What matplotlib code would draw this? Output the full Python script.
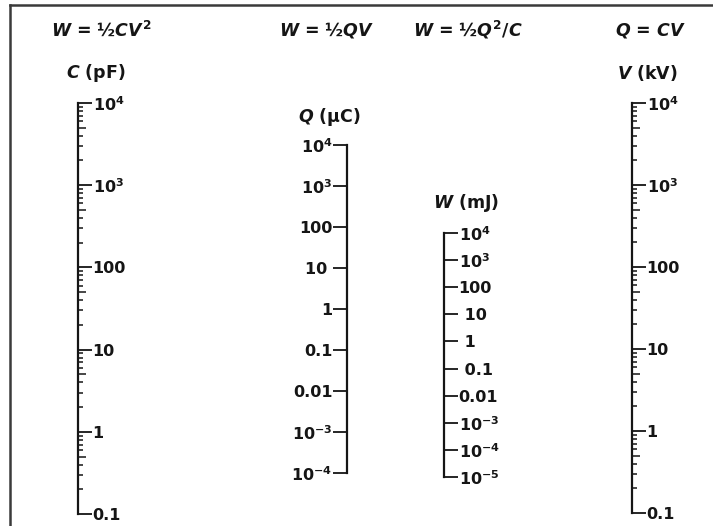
import matplotlib
matplotlib.use("Agg")
import matplotlib.pyplot as plt
from matplotlib.ticker import FixedLocator, NullFormatter, LogLocator
from matplotlib.lines import Line2D

plt.rcParams['font.family'] = ['DejaVu Sans']
plt.rcParams['font.weight'] = 'bold'
plt.rcParams['mathtext.fontset'] = 'custom'
plt.rcParams['mathtext.rm'] = 'DejaVu Sans:bold'
plt.rcParams['mathtext.it'] = 'DejaVu Sans:italic:bold'
plt.rcParams['mathtext.bf'] = 'DejaVu Sans:bold'

# ---- data ----
formulas = ["$W$ = ½$CV^{2}$", "$W$ = ½$QV$",
            "$W$ = ½$Q^{2}$/$C$", "$Q$ = $CV$"]
axis_names = [r"$C$ (pF)", r"$Q$ (μC)", r"$W$ (mJ)", r"$V$ (kV)"]

C_ticks = [0.1, 1, 10, 100, 1e3, 1e4]
C_labels = ["0.1", "1", "10", "100", r"$10^{3}$", r"$10^{4}$"]
Q_ticks = [1e-4, 1e-3, 0.01, 0.1, 1, 10, 100, 1e3, 1e4]
Q_labels = [r"$10^{-4}$", r"$10^{-3}$", "0.01", "0.1", "1", "10 ", "100", r"$10^{3}$", r"$10^{4}$"]
W_ticks = [1e-5, 1e-4, 1e-3, 0.01, 0.1, 1, 10, 100, 1e3, 1e4]
W_labels = [r"$10^{-5}$", r"$10^{-4}$", r"$10^{-3}$", "0.01", " 0.1", " 1", " 10", "100", r"$10^{3}$", r"$10^{4}$"]
V_ticks = [0.1, 1, 10, 100, 1e3, 1e4]
V_labels = ["0.1", "1", "10", "100", r"$10^{3}$", r"$10^{4}$"]
minor_subs = [2, 3, 4, 6, 7, 8, 9]
mid_subs = [5]

FW, FH = 713, 526
fig = plt.figure(figsize=(FW / 100, FH / 100), dpi=100)
fig.patch.set_facecolor('white')

ink = '#151515'
fs = 11.5
fs_title = 12.5

# frame (left and top edges)
fig.add_artist(Line2D([10 / FW, 10 / FW], [0, 1 - 5 / FH], transform=fig.transFigure,
                      color='#3a3a3a', lw=1.8))
fig.add_artist(Line2D([10 / FW, 1.0], [1 - 5 / FH, 1 - 5 / FH], transform=fig.transFigure,
                      color='#3a3a3a', lw=1.8))


def new_axes(xpix, ytop, ybot, ticks, side):
    ax = fig.add_axes([xpix / FW, 1 - ybot / FH, 0.0001, (ybot - ytop) / FH])
    ax.set_yscale('log')
    ax.set_ylim(ticks[0], ticks[-1])
    ax.set_xticks([])
    ax.patch.set_visible(False)
    for s in ax.spines.values():
        s.set_visible(False)
    ax.yaxis.set_ticks_position(side)
    return ax


def make_scale(xpix, ytop, ybot, ticks, labels, side, minor):
    ax = new_axes(xpix, ytop, ybot, ticks, side)
    ax.spines[side].set_visible(True)
    ax.spines[side].set_linewidth(1.6)
    ax.spines[side].set_color(ink)
    ax.yaxis.set_major_locator(FixedLocator(ticks))
    ax.set_yticklabels(labels)
    if minor:
        ax.yaxis.set_minor_locator(LogLocator(base=10, subs=minor_subs))
        ax.yaxis.set_minor_formatter(NullFormatter())
        # longer ticks at the 5s
        ax2 = new_axes(xpix, ytop, ybot, ticks, side)
        ax2.yaxis.set_major_locator(LogLocator(base=10, subs=mid_subs))
        ax2.yaxis.set_major_formatter(NullFormatter())
        ax2.yaxis.set_minor_locator(FixedLocator([]))
        ax2.tick_params(axis='y', which='major', direction='out', length=5.5, width=1.1,
                        color=ink)
    else:
        ax.yaxis.set_minor_locator(FixedLocator([]))
    ax.tick_params(axis='y', which='major', direction='out', length=10, width=1.3,
                   color=ink, pad=0.5, labelsize=fs, labelcolor=ink)
    ax.tick_params(axis='y', which='minor', direction='out', length=3.6, width=1.1, color=ink)
    return ax


make_scale(78, 103, 514, C_ticks, C_labels, 'right', True)
make_scale(347, 145, 473, Q_ticks, Q_labels, 'left', False)
make_scale(444, 233, 477, W_ticks, W_labels, 'right', False)
make_scale(632, 103, 513, V_ticks, V_labels, 'right', True)

# formulas
for txt, x in zip(formulas, [101, 327, 468, 650]):
    fig.text(x / FW, 1 - 30 / FH, txt, ha='center', va='center', fontsize=fs_title, color=ink)

# axis names
for txt, (x, y) in zip(axis_names, [(96, 73), (329, 117), (466, 203), (647, 73)]):
    fig.text(x / FW, 1 - y / FH, txt, ha='center', va='center', fontsize=fs_title, color=ink)

fig.savefig('out.png', dpi=100, facecolor='white')
